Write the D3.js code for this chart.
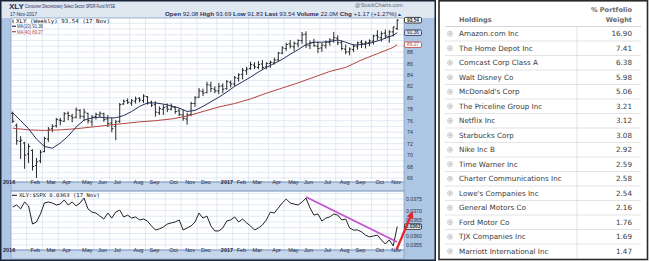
<!DOCTYPE html>
<html>
<head>
<meta charset="utf-8">
<script src="https://cdn.jsdelivr.net/npm/d3@7"></script>
<style>
body { margin: 0; background: #fff; }
svg { display: block; }
</style>
</head>
<body>
<svg width="650" height="261"></svg>
<script>
// weekly XLY bars, Jan 8 2016 .. Nov 17 2017
const opens = [77.3, 75.2, 72.4, 72.1, 70.2, 70.8, 68.2, 69.0, 70.6, 72.8, 74.6, 75.1, 76.1, 75.9, 77.3, 76.8, 76.6, 77.8, 76.7, 77.3,
  75.8, 76.7, 77.0, 77.2, 76.3, 75.6, 75.0, 75.9, 78.9, 79.5, 79.1, 79.4, 79.9, 79.5, 80.2, 79.2, 78.8, 77.4, 78.0, 78.4,
  78.0, 78.3, 77.7, 77.0, 76.3, 77.1, 79.0, 80.1, 81.1, 80.9, 82.2, 81.5, 81.2, 82.1, 81.6, 82.7, 82.4, 83.4, 84.1, 84.7,
  85.1, 85.7, 85.3, 85.9, 85.4, 86.0, 86.1, 86.6, 87.8, 88.6, 89.4, 88.9, 89.4, 90.0, 91.1, 89.1, 89.7, 89.0, 88.7, 89.1,
  89.7, 90.1, 90.4, 89.6, 88.5, 88.0, 88.4, 88.9, 89.7, 89.4, 89.6, 89.9, 90.9, 90.5, 91.3, 90.7, 91.5, 92.08];
const highs = [77.6, 75.5, 73.3, 72.3, 72.0, 71.0, 69.5, 70.9, 73.2, 74.9, 75.4, 76.5, 76.5, 77.5, 77.6, 77.2, 78.3, 78.0, 78.1, 77.4,
  77.0, 77.4, 77.6, 77.4, 77.0, 76.5, 76.1, 79.1, 79.7, 79.9, 79.8, 80.2, 80.1, 80.6, 80.3, 79.5, 79.4, 78.5, 78.8, 79.0,
  79.0, 78.5, 78.2, 77.9, 77.4, 79.3, 80.3, 81.7, 81.6, 82.8, 82.8, 82.0, 82.6, 82.5, 83.1, 83.0, 83.8, 84.3, 85.2, 85.4,
  86.3, 86.2, 86.4, 86.6, 86.2, 86.5, 87.0, 88.0, 89.0, 89.6, 90.1, 89.8, 90.2, 91.5, 91.6, 90.0, 90.3, 89.8, 89.6, 90.0,
  90.4, 91.5, 90.9, 90.0, 89.3, 88.8, 89.4, 89.8, 90.1, 89.9, 90.2, 91.0, 91.8, 91.6, 91.9, 91.8, 92.4, 93.69];
const lows = [75.6, 71.8, 69.3, 67.6, 68.6, 67.3, 66.0, 68.6, 70.5, 72.3, 74.0, 74.8, 75.2, 75.8, 76.1, 75.7, 76.4, 76.3, 76.0, 75.5,
  75.0, 76.2, 76.6, 75.8, 74.9, 74.0, 72.6, 75.6, 78.8, 78.9, 78.6, 79.0, 79.2, 79.1, 78.8, 78.4, 76.7, 77.0, 77.0, 77.5,
  77.8, 77.2, 76.8, 76.0, 75.3, 76.8, 78.4, 80.0, 80.3, 80.8, 81.0, 80.8, 80.6, 80.8, 81.4, 81.8, 82.0, 82.8, 83.2, 84.0,
  84.9, 85.0, 85.0, 85.0, 85.0, 85.2, 85.8, 86.4, 87.6, 88.2, 88.6, 88.2, 88.8, 89.4, 88.7, 88.5, 88.9, 87.8, 88.0, 88.6,
  89.1, 89.6, 89.2, 88.3, 87.6, 87.4, 88.0, 88.4, 88.7, 88.6, 89.0, 89.3, 90.0, 89.8, 90.3, 89.6, 90.7, 91.83];
const closes = [75.9, 72.5, 72.6, 70.0, 71.5, 68.0, 68.8, 70.5, 72.9, 74.5, 75.0, 76.2, 76.0, 77.2, 76.9, 76.5, 77.9, 76.8, 77.5, 76.0,
  76.6, 77.1, 77.3, 76.2, 75.5, 74.6, 75.8, 78.8, 79.4, 79.2, 79.5, 79.8, 79.6, 80.3, 79.1, 78.7, 77.5, 78.1, 78.3, 78.0,
  78.4, 77.6, 77.1, 76.4, 77.0, 79.0, 80.0, 81.2, 80.8, 82.3, 81.6, 81.2, 82.0, 81.5, 82.8, 82.4, 83.5, 84.0, 84.8, 85.0,
  85.8, 85.4, 85.8, 85.3, 86.0, 86.2, 86.6, 87.8, 88.7, 89.3, 89.0, 89.5, 90.0, 91.0, 89.2, 89.6, 89.1, 88.6, 89.2, 89.7,
  90.1, 90.5, 89.6, 88.6, 88.0, 88.5, 89.0, 89.6, 89.5, 89.7, 89.9, 90.8, 90.6, 91.2, 90.8, 91.5, 92.37, 93.54];

// moving averages: [week index, value]
const ma10 = [[0, 77.4], [2, 76.0], [4, 74.6], [6, 72.8], [8, 71.5], [10, 71.2], [12, 72.1], [14, 73.3], [16, 74.9], [18, 76.1],
  [20, 76.5], [22, 76.6], [24, 76.5], [26, 76.5], [28, 76.9], [30, 77.6], [32, 78.5], [34, 79.1], [36, 79.1], [38, 78.9],
  [40, 78.6], [42, 78.2], [44, 77.6], [46, 77.8], [48, 78.5], [50, 79.3], [52, 80.1], [54, 81.0], [56, 82.0], [58, 82.8],
  [60, 83.6], [62, 84.5], [64, 85.3], [66, 86.0], [68, 86.7], [70, 87.6], [72, 88.4], [74, 89.3], [76, 89.7], [78, 89.7],
  [80, 89.8], [82, 90.1], [84, 89.7], [86, 89.2], [88, 89.3], [90, 89.5], [92, 89.9], [94, 90.4], [96, 90.9], [97, 91.36]];
const ma40 = [[0, 74.7], [4, 74.4], [8, 74.3], [12, 74.4], [16, 74.6], [20, 74.9], [24, 75.2], [28, 75.5], [32, 75.8], [36, 76.0],
  [40, 76.3], [44, 76.8], [48, 77.6], [52, 78.4], [56, 79.0], [60, 79.8], [64, 80.8], [68, 81.7], [72, 82.6], [76, 83.6],
  [80, 84.6], [84, 85.3], [88, 86.6], [92, 87.7], [96, 88.8], [97, 89.27]];

// XLY:$SPX ratio
const ratio = [0.03715, 0.03724, 0.03707, 0.03737, 0.0372, 0.03641, 0.0365, 0.03685, 0.03733, 0.03737,
  0.03733, 0.03724, 0.03728, 0.03746, 0.03724, 0.03737, 0.0372, 0.03733, 0.03754, 0.03707,
  0.03693, 0.03689, 0.03676, 0.03663, 0.03689, 0.03667, 0.03693, 0.03702, 0.03672, 0.0368,
  0.03667, 0.03672, 0.03659, 0.03663, 0.03654, 0.03633, 0.03615, 0.0362, 0.03628, 0.03641,
  0.03646, 0.0365, 0.03659, 0.03615, 0.03624, 0.03633, 0.0365, 0.03689, 0.03667, 0.03676,
  0.03633, 0.03611, 0.03611, 0.03624, 0.03654, 0.03659, 0.03672, 0.0365, 0.03663, 0.03646,
  0.03633, 0.03615, 0.03624, 0.03637, 0.03659, 0.03693, 0.03689, 0.03711, 0.03733, 0.0375,
  0.03733, 0.03728, 0.03724, 0.03737, 0.03754, 0.03711, 0.0368, 0.03685, 0.03654, 0.03667,
  0.03672, 0.03685, 0.0368, 0.03659, 0.03663, 0.03624, 0.03615, 0.03615, 0.03607, 0.03593,
  0.03585, 0.03589, 0.03593, 0.03572, 0.03554, 0.03572, 0.03546, 0.0363];
const trendLine = [[74, 0.03759], [97, 0.03563]];
const arrowFrom = [new Date(2017, 10, 16), 0.0353];
const arrowTo = [new Date(2017, 11, 12), 0.03683];

// 90, 92 and 94 sit under the last-value boxes
const priceTicks = d3.range(66, 89, 2);
const ratioTicks = [0.0355, 0.036, 0.0365, 0.037, 0.0375];

const holdings = ['Amazon.com Inc', 'The Home Depot Inc', 'Comcast Corp Class A', 'Walt Disney Co', "McDonald's Corp",
  'The Priceline Group Inc', 'Netflix Inc', 'Starbucks Corp', 'Nike Inc B', 'Time Warner Inc',
  'Charter Communications Inc', "Lowe's Companies Inc", 'General Motors Co', 'Ford Motor Co',
  'TJX Companies Inc', 'Marriott International Inc'];
const weights = [16.90, 7.41, 6.38, 5.98, 5.06, 3.21, 3.12, 3.08, 2.92, 2.59, 2.58, 2.54, 2.16, 1.76, 1.69, 1.47];

const weeks = d3.timeFriday.range(new Date(2016, 0, 8), new Date(2017, 10, 18));
const monthWeeks = weeks.filter((d, i) => i === 0 || d.getMonth() !== weeks[i - 1].getMonth());

const svg = d3.select('svg');
const navy = '#1c2d5c';
const sans = 'Liberation Sans, Arial, sans-serif';
const mono = 'DejaVu Sans Mono, monospace';

const x = d3.scaleTime().domain([new Date(2016, 0, 5), new Date(2017, 10, 29)]).range([11, 404]);
const yPrice = d3.scaleLinear().domain([65.3, 94.1]).range([182, 17]);
const yRatio = d3.scaleLinear().domain([0.03528, 0.03785]).range([250, 191]);

const defs = svg.append('defs');
defs.append('clipPath').attr('id', 'clipPrice').append('rect').attr('x', 11).attr('y', 18).attr('width', 393).attr('height', 164);
defs.append('clipPath').attr('id', 'clipRatio').append('rect').attr('x', 11).attr('y', 191).attr('width', 393).attr('height', 59);
defs.append('marker').attr('id', 'arrowHead').attr('viewBox', '0 0 10 10').attr('refX', 5).attr('refY', 5)
  .attr('markerWidth', 3.2).attr('markerHeight', 3.2).attr('orient', 'auto')
  .append('path').attr('d', 'M0,0L10,5L0,10z').attr('fill', '#e0252b');

// ---- left chart frame ----
svg.append('rect').attr('x', 0).attr('y', 0).attr('width', 436).attr('height', 261).attr('fill', '#adc6e4');
svg.append('rect').attr('x', 0).attr('y', 0).attr('width', 436).attr('height', 18).attr('fill', '#dfe7f1');
svg.append('rect').attr('x', 11).attr('y', 18).attr('width', 393).attr('height', 164).attr('fill', '#fff');
svg.append('rect').attr('x', 11).attr('y', 191).attr('width', 393).attr('height', 59).attr('fill', '#fff');
svg.append('rect').attr('x', 11).attr('y', 182).attr('width', 393).attr('height', 9).attr('fill', '#c6d7ec');
svg.append('rect').attr('x', 11).attr('y', 250).attr('width', 393).attr('height', 9).attr('fill', '#c6d7ec');

// grid
const grid = svg.append('g').attr('stroke', '#d6e1ee').attr('stroke-width', 0.7);
grid.selectAll('line.hp').data(d3.range(66, 95, 1)).join('line')
  .attr('x1', 11).attr('x2', 404).attr('y1', d => yPrice(d)).attr('y2', d => yPrice(d));
grid.selectAll('line.hr').data(d3.range(0.03550, 0.03780, 0.00025)).join('line')
  .attr('x1', 11).attr('x2', 404).attr('y1', d => yRatio(d)).attr('y2', d => yRatio(d));
grid.selectAll('line.v1').data(monthWeeks.slice(1)).join('line')
  .attr('x1', d => x(d) - 2).attr('x2', d => x(d) - 2).attr('y1', 18).attr('y2', 182);
grid.selectAll('line.v2').data(monthWeeks.slice(1)).join('line')
  .attr('x1', d => x(d) - 2).attr('x2', d => x(d) - 2).attr('y1', 191).attr('y2', 250);

// plot borders
[[18, 164], [182, 9], [191, 59], [250, 9]].forEach(([y0, h]) => {
  svg.append('rect').attr('x', 11).attr('y', y0).attr('width', 393).attr('height', h)
    .attr('fill', 'none').attr('stroke', '#7e9bc2').attr('stroke-width', 0.7);
});

// ---- price bars ----
const pricePlot = svg.append('g').attr('clip-path', 'url(#clipPrice)');
const bar = pricePlot.selectAll('g.bar').data(weeks).join('g').attr('class', 'bar')
  .attr('stroke', '#111').attr('stroke-width', 0.9);
bar.append('line').attr('x1', d => x(d)).attr('x2', d => x(d))
  .attr('y1', (d, i) => yPrice(highs[i])).attr('y2', (d, i) => yPrice(lows[i]));
bar.append('line').attr('x1', d => x(d) - 1.6).attr('x2', d => x(d))
  .attr('y1', (d, i) => yPrice(opens[i])).attr('y2', (d, i) => yPrice(opens[i]));
bar.append('line').attr('x1', d => x(d)).attr('x2', d => x(d) + 1.6)
  .attr('y1', (d, i) => yPrice(closes[i])).attr('y2', (d, i) => yPrice(closes[i]));

const maLine = d3.line().x(d => x(weeks[d[0]])).y(d => yPrice(d[1]));
pricePlot.append('path').attr('d', maLine(ma40)).attr('fill', 'none').attr('stroke', '#b5453f').attr('stroke-width', 1);
pricePlot.append('path').attr('d', maLine(ma10)).attr('fill', 'none').attr('stroke', '#26305a').attr('stroke-width', 1);

// ---- ratio panel ----
const ratioPlot = svg.append('g').attr('clip-path', 'url(#clipRatio)');
ratioPlot.append('path')
  .attr('d', d3.line().x((d, i) => x(weeks[i])).y(d => yRatio(d))(ratio))
  .attr('fill', 'none').attr('stroke', '#222').attr('stroke-width', 1);
ratioPlot.append('path')
  .attr('d', d3.line().x(d => x(weeks[d[0]])).y(d => yRatio(d[1]))(trendLine))
  .attr('fill', 'none').attr('stroke', '#c64fd2').attr('stroke-width', 1.8);

// ---- right axes ----
const priceAxis = svg.append('g').attr('transform', 'translate(404,0)')
  .call(d3.axisRight(yPrice).tickValues(priceTicks).tickSize(0).tickPadding(3).tickFormat(d3.format('d')));
const ratioAxis = svg.append('g').attr('transform', 'translate(404,0)')
  .call(d3.axisRight(yRatio).tickValues(ratioTicks).tickSize(0).tickPadding(2).tickFormat(d3.format('.4f')));
[priceAxis, ratioAxis].forEach(g => {
  g.select('.domain').remove();
  g.selectAll('text').attr('font-family', sans).attr('font-size', 5.2).attr('fill', '#2a3550');
});
// nudge the two labels beside the last-value box apart from it
ratioAxis.selectAll('text').attr('dy', d => d === 0.0365 ? '-0.1em' : d === 0.036 ? '0.75em' : '0.32em');

function valueBox(yv, label, stroke, fill, color, bold) {
  const g = svg.append('g').attr('transform', `translate(404.5,${yv})`);
  g.append('rect').attr('x', 0).attr('y', -2.8).attr('width', 17).attr('height', 5.6).attr('rx', 1.4)
    .attr('fill', fill).attr('stroke', stroke).attr('stroke-width', 0.8);
  g.append('text').attr('x', 8.5).attr('y', 1.7).attr('text-anchor', 'middle').attr('font-family', sans)
    .attr('font-size', 4.8).attr('font-weight', bold ? 'bold' : 'normal').attr('fill', color).text(label);
}
valueBox(yPrice(89.27), '89.27', '#b5453f', '#fff', '#b5453f', false);
valueBox(yPrice(91.36), '91.36', '#26305a', '#d9e2f0', '#26305a', false);
valueBox(yPrice(93.54), '93.54', '#111', '#fff', '#111', true);
valueBox(yRatio(0.0363), '0.0363', '#111', '#fff', '#111', true);

// red arrow
svg.append('line').attr('x1', x(arrowFrom[0])).attr('y1', yRatio(arrowFrom[1]))
  .attr('x2', x(arrowTo[0])).attr('y2', yRatio(arrowTo[1]))
  .attr('stroke', '#e0252b').attr('stroke-width', 2.2).attr('marker-end', 'url(#arrowHead)');

// ---- date axes ----
function dateAxis(yPos) {
  const g = svg.append('g').attr('transform', `translate(0,${yPos})`)
    .call(d3.axisBottom(x).tickValues(monthWeeks).tickSize(0).tickPadding(0)
      .tickFormat(d => d.getMonth() === 0 ? d3.timeFormat('%Y')(d) : d3.timeFormat('%b')(d)));
  g.select('.domain').remove();
  g.selectAll('text').attr('font-family', sans).attr('font-size', 5.5).attr('fill', '#1d2a48')
    .attr('dy', '0.2em')
    .attr('text-anchor', (d, i) => i === 0 ? 'end' : 'start')
    .attr('dx', (d, i) => i === 0 ? 2 : 1.5)
    .attr('font-weight', d => d.getMonth() === 0 ? 'bold' : 'normal');
}
dateAxis(182.5);
dateAxis(250.5);

// ---- header & legends ----
svg.append('text').attr('x', 9).attr('y', 8.6).attr('font-family', sans).attr('font-size', 8)
  .attr('font-weight', 'bold').attr('fill', navy).text('XLY');
svg.append('text').attr('x', 25).attr('y', 8).attr('font-family', sans).attr('font-size', 5)
  .attr('fill', navy).attr('textLength', 90).attr('lengthAdjust', 'spacingAndGlyphs')
  .text('Consumer Discretionary Select Sector SPDR Fund NYSE');
svg.append('text').attr('x', 10).attr('y', 15.5).attr('font-family', sans).attr('font-size', 5)
  .attr('fill', navy).attr('textLength', 27).attr('lengthAdjust', 'spacingAndGlyphs').text('17-Nov-2017');
svg.append('text').attr('x', 355).attr('y', 7).attr('font-family', sans).attr('font-size', 5)
  .attr('fill', '#5a6a86').attr('textLength', 48).attr('lengthAdjust', 'spacingAndGlyphs').text('@StockCharts.com');

const quote = svg.append('text').attr('x', 165).attr('y', 15.5).attr('font-family', sans).attr('font-size', 5.2)
  .attr('fill', navy).attr('textLength', 237).attr('lengthAdjust', 'spacingAndGlyphs');
[['Open', '92.08'], ['High', '93.69'], ['Low', '91.83'], ['Last', '93.54'], ['Volume', '22.0M'], ['Chg', '+1.17 (+1.27%) \u25B4']]
  .forEach(([k, v]) => {
    quote.append('tspan').attr('font-weight', 'bold').text(k + ' ');
    quote.append('tspan').text(v + '  ');
  });

svg.append('line').attr('x1', 13).attr('x2', 13).attr('y1', 19.5).attr('y2', 23).attr('stroke', '#111').attr('stroke-width', 0.8);
svg.append('text').attr('x', 16).attr('y', 23).attr('font-family', mono).attr('font-size', 5.4)
  .attr('fill', '#111').attr('textLength', 94).attr('lengthAdjust', 'spacingAndGlyphs').text('XLY (Weekly) 93.54 (17 Nov)');
[['MA(10) 91.36', '#26305a', 28], ['MA(40) 89.27', '#b5453f', 33.5]].forEach(([t, c, yy]) => {
  svg.append('line').attr('x1', 12).attr('x2', 16).attr('y1', yy - 1.8).attr('y2', yy - 1.8).attr('stroke', c).attr('stroke-width', 1.2);
  svg.append('text').attr('x', 17).attr('y', yy).attr('font-family', sans).attr('font-size', 5)
    .attr('fill', c).attr('textLength', 26).attr('lengthAdjust', 'spacingAndGlyphs').text(t);
});
svg.append('line').attr('x1', 12).attr('x2', 17).attr('y1', 195.3).attr('y2', 195.3).attr('stroke', '#111').attr('stroke-width', 1);
svg.append('text').attr('x', 19).attr('y', 197).attr('font-family', mono).attr('font-size', 5.2)
  .attr('fill', '#111').attr('textLength', 81).attr('lengthAdjust', 'spacingAndGlyphs').text('XLY:$SPX 0.0363 (17 Nov)');

// outer frame of the chart
svg.append('rect').attr('x', 0.75).attr('y', 0.75).attr('width', 434.5).attr('height', 259.5)
  .attr('fill', 'none').attr('stroke', '#1b2436').attr('stroke-width', 1.5);

// ---- holdings table ----
const table = svg.append('g');
table.append('rect').attr('x', 438).attr('y', 0).attr('width', 212).attr('height', 261).attr('fill', '#fff');
const rowY = d3.scaleBand().domain(holdings).range([26.5, 258.5]);

table.selectAll('line.sep').data(holdings.slice(0, -1)).join('line')
  .attr('x1', 445).attr('x2', 641)
  .attr('y1', d => rowY(d) + rowY.bandwidth()).attr('y2', d => rowY(d) + rowY.bandwidth())
  .attr('stroke', '#dcdcdc').attr('stroke-width', 0.8);
table.append('line').attr('x1', 445).attr('x2', 641).attr('y1', 26.5).attr('y2', 26.5)
  .attr('stroke', '#cfcfcf').attr('stroke-width', 0.9);
table.append('line').attr('x1', 577).attr('x2', 577).attr('y1', 26.5).attr('y2', 258.5)
  .attr('stroke', '#dcdcdc').attr('stroke-width', 0.8);

const tableFont = 'DejaVu Sans, Verdana, sans-serif';
table.append('text').attr('x', 459).attr('y', 22).attr('font-family', tableFont).attr('font-size', 6.6)
  .attr('font-weight', 'bold').attr('fill', '#6a6a6a').text('Holdings');
table.append('text').attr('x', 632).attr('y', 12).attr('text-anchor', 'end').attr('font-family', tableFont)
  .attr('font-size', 6.6).attr('font-weight', 'bold').attr('fill', '#6a6a6a').text('% Portfolio');
table.append('text').attr('x', 632).attr('y', 21.5).attr('text-anchor', 'end').attr('font-family', tableFont)
  .attr('font-size', 6.6).attr('font-weight', 'bold').attr('fill', '#6a6a6a').text('Weight');

const row = table.selectAll('g.row').data(holdings).join('g').attr('class', 'row')
  .attr('transform', d => `translate(0,${rowY(d) + rowY.bandwidth() / 2})`);
row.append('rect').attr('x', 447.5).attr('y', -2.5).attr('width', 5).attr('height', 5).attr('rx', 2.5)
  .attr('fill', '#fff').attr('stroke', '#b5b5b5').attr('stroke-width', 0.7);
row.append('path').attr('d', 'M448.6,0H451.4M450,-1.4V1.4').attr('stroke', '#9a9a9a').attr('stroke-width', 0.7);
row.append('text').attr('x', 459).attr('y', 2.5).attr('font-family', tableFont).attr('font-size', 7.2)
  .attr('fill', '#3a3a3a').text(d => d);
row.append('text').attr('x', 632).attr('y', 2.5).attr('text-anchor', 'end').attr('font-family', tableFont)
  .attr('font-size', 7.2).attr('fill', '#3a3a3a').text((d, i) => weights[i].toFixed(2));

table.append('rect').attr('x', 439).attr('y', 0.8).attr('width', 208.5).attr('height', 258.7)
  .attr('fill', 'none').attr('stroke', '#2a2a2a').attr('stroke-width', 1.6);
</script>
</body>
</html>
